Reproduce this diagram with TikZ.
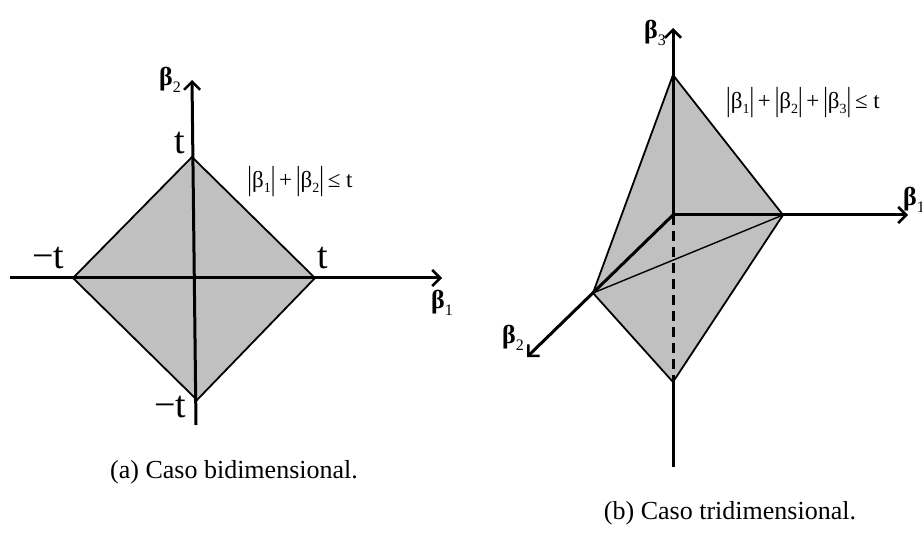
\documentclass[tikz,border=0pt]{standalone}
\usepackage{fontspec}
\setmainfont{Liberation Serif}
\usetikzlibrary{arrows.meta}
\definecolor{grayfill}{HTML}{C0C0C0}
\newcommand{\bsub}[2]{\textbf{#1}\raisebox{-0.28em}{\fontsize{16}{18}\selectfont #2}}
\newcommand{\nsub}[2]{#1\raisebox{-0.22em}{\fontsize{14}{16}\selectfont #2}}
\newcommand{\vb}{\raisebox{-0.12em}{\scalebox{1}[1.45]{|}}}
\begin{document}
\begin{tikzpicture}[x=1pt,y=-1pt,
 axis/.style={line width=3pt,-{Straight Barb[length=8pt,width=16pt,line width=2.5pt]}},
 plain/.style={line width=3pt},
 edge/.style={line width=1.8pt},
 thinedge/.style={line width=1.4pt},
 hidden/.style={line width=3pt,dash pattern=on 10pt off 6pt},
 tlab/.style={inner sep=0pt,font=\fontsize{38}{42}\selectfont},
 ax/.style={inner sep=0pt,font=\fontsize{26}{30}\selectfont},
 frm/.style={inner sep=0pt,font=\fontsize{23}{26}\selectfont},
 captext/.style={inner sep=0pt,font=\fontsize{26}{30}\selectfont}]
\fill[white] (0,0) rectangle (922,548);
\useasboundingbox (0,0) rectangle (922,548);
% ---- left: 2D ----
\coordinate (T) at (192,157);
\coordinate (R) at (315,278);
\coordinate (B) at (197,400);
\coordinate (L) at (73,278);
\fill[grayfill] (T)--(R)--(B)--(L)--cycle;
\draw[edge] (T)--(R)--(B)--(L)--cycle;
\coordinate (xs) at (10,278);
\coordinate (xe) at (442,278);
\coordinate (ys) at (196,425);
\coordinate (ye) at (192,80);
\draw[axis] (xs)--(xe);
\draw[axis] (ys)--(ye);
\node[tlab] (tt) at (180,143) {t};
\node[tlab] (tl) at (48,258) {−t};
\node[tlab] (tr) at (323,258) {t};
\node[tlab] (tb) at (170,407) {−t};
\node[ax] (b2) at (170,80) {\bsub{β}{2}};
\node[ax] (b1) at (442,303) {\bsub{β}{1}};
\node[frm] (f2) at (300,182) {\vb\nsub{β}{1}\vb\,+\,\vb\nsub{β}{2}\vb\,≤ t};
\node[captext] (ca) at (234,472) {(a) Caso bidimensional.};
% ---- right: 3D ----
\coordinate (O) at (673,215);
\coordinate (Tp) at (673,75);
\coordinate (V1) at (783,215);
\coordinate (V2) at (593,293);
\coordinate (Bt) at (673,382);
\coordinate (e3) at (673,28);
\coordinate (e1) at (908,215);
\coordinate (e2) at (527,357);
\coordinate (s3) at (673,467);
\fill[grayfill] (Tp)--(V1)--(Bt)--(V2)--cycle;
\draw[edge] (Tp)--(V1)--(Bt)--(V2)--cycle;
\draw[thinedge] (V2)--(V1);
\draw[hidden] (O)--(Bt);
\draw[plain] (Bt)--(s3);
\draw[axis] (O)--(e3);
\draw[axis] (O)--(e1);
\draw[axis] (O)--(e2);
\node[ax] (c3) at (655,33) {\bsub{β}{3}};
\node[ax,anchor=west] (c1) at (903,200) {\bsub{β}{1}};
\node[ax] (c2) at (513,338) {\bsub{β}{2}};
\node[frm] (f3) at (803,103) {\vb\nsub{β}{1}\vb\,+\,\vb\nsub{β}{2}\vb\,+\,\vb\nsub{β}{3}\vb\,≤ t};
\node[captext] (cb) at (730,513) {(b) Caso tridimensional.};
\end{tikzpicture}
\end{document}
